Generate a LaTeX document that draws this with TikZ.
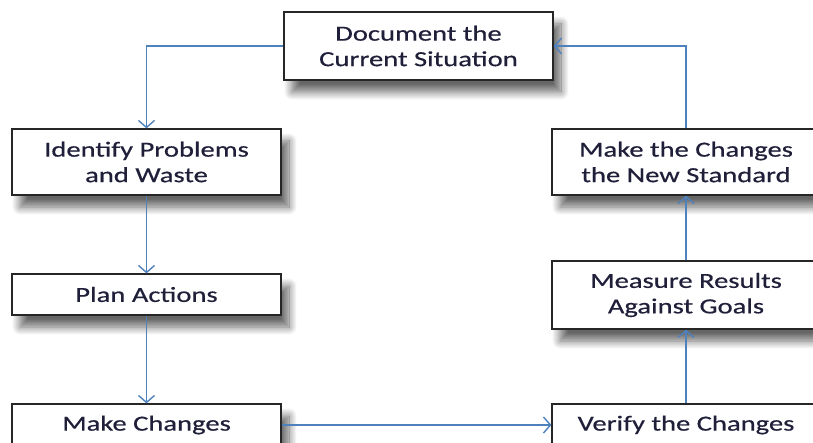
\documentclass[tikz,border=0pt]{standalone}
\usepackage{fontspec}
\setmainfont{Carlito}[FakeStretch=1.33,FakeBold=0.5]
\usetikzlibrary{arrows.meta,shadows.blur}
\definecolor{linkblue}{HTML}{4F81BD}
\definecolor{labelink}{HTML}{1F1F3A}
\begin{document}
\begin{tikzpicture}[x=1pt,y=-1pt,
  stepbox/.style={draw=black!85,line width=1.2pt,fill=white,inner sep=0pt,
    text=labelink,align=center,
    font=\fontsize{21.5}{25.5}\selectfont,
    blur shadow={shadow xshift=8pt,shadow yshift=-12pt,shadow blur steps=14,
      shadow blur radius=8pt,shadow opacity=60}},
  flow/.style={draw=linkblue,line width=1.4pt,
    -{Straight Barb[length=7pt,width=16pt,line width=1.4pt]}}]
\useasboundingbox (0,0) rectangle (813,443);
\node[stepbox,minimum width=269pt,minimum height=68pt] (doc) at (418.5,46) {Document the\\Current Situation};
\node[stepbox,minimum width=269pt,minimum height=66pt] (ident) at (146.5,162) {Identify Problems\\and Waste};
\node[stepbox,minimum width=269pt,minimum height=41pt] (plan) at (146.5,294.5) {Plan Actions};
\node[stepbox,minimum width=269pt,minimum height=42pt] (make) at (146.5,425) {Make Changes};
\node[stepbox,minimum width=268pt,minimum height=66pt] (std) at (686,162) {Make the Changes\\the New Standard};
\node[stepbox,minimum width=268pt,minimum height=68pt] (meas) at (686,295) {Measure Results\\Against Goals};
\node[stepbox,minimum width=268pt,minimum height=42pt] (verify) at (686,425) {Verify the Changes};
\draw[flow] (doc.west) -| (ident.north);
\draw[flow] (ident) -- (plan);
\draw[flow] (plan) -- (make);
\draw[flow] (make) -- (verify);
\draw[flow] (verify) -- (meas);
\draw[flow] (meas) -- (std);
\draw[flow] (std.north) |- (doc.east);
\end{tikzpicture}
\end{document}
